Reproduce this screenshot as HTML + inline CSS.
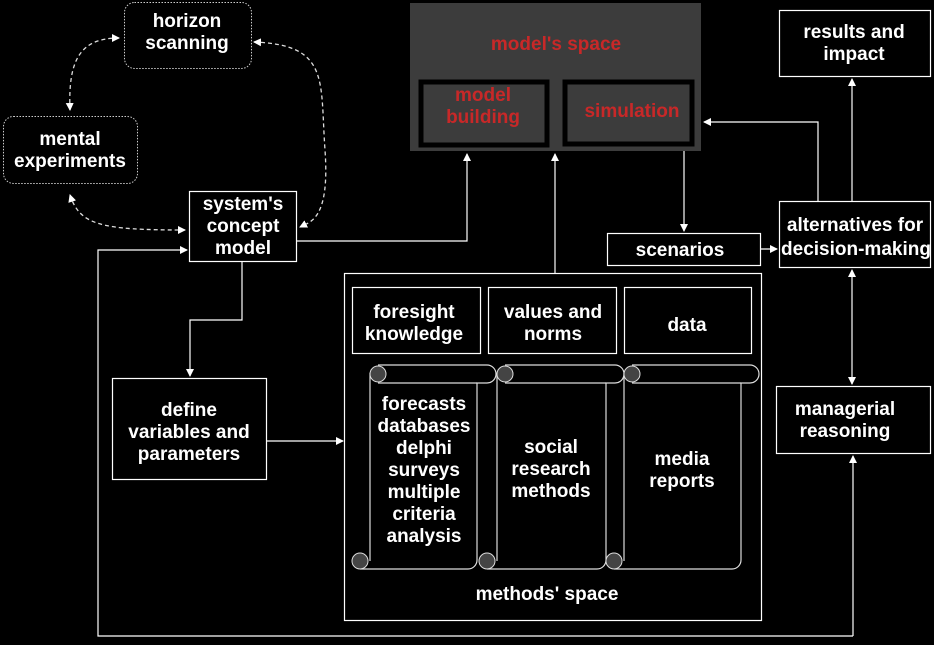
<!DOCTYPE html>
<html><head><meta charset="utf-8"><style>
html,body{margin:0;padding:0;background:#000;}
svg{display:block;}
text{font-family:"Liberation Sans",Arial,sans-serif;font-weight:bold;font-size:19px;fill:#fff;text-anchor:middle;}
.r{fill:#c82828;}
</style></head><body>
<svg width="934" height="645" viewBox="0 0 934 645" xmlns="http://www.w3.org/2000/svg">
<defs>
<marker id="a" markerWidth="8" markerHeight="8" refX="7" refY="4" orient="auto" markerUnits="userSpaceOnUse"><path d="M0,0 L8,4 L0,8 z" fill="#fff"/></marker>
<marker id="as" markerWidth="8" markerHeight="8" refX="1" refY="4" orient="auto" markerUnits="userSpaceOnUse"><path d="M8,0 L0,4 L8,8 z" fill="#fff"/></marker>
</defs>
<rect width="934" height="645" fill="#000"/>

<rect x="410" y="3" width="291" height="148" fill="#3c3c3c"/>
<rect x="421" y="82" width="126" height="63" fill="#3c3c3c" stroke="#000" stroke-width="5"/>
<rect x="565" y="82" width="127" height="62" fill="#3c3c3c" stroke="#000" stroke-width="5"/>
<text class="r" x="556" y="50">model's space</text>
<text class="r" x="483" y="101">model</text>
<text class="r" x="483" y="123">building</text>
<text class="r" x="632" y="117">simulation</text>

<rect x="124.5" y="2.5" width="127" height="66" rx="10" fill="none" stroke="#ccc" stroke-dasharray="1.5,1.5"/>
<text x="187" y="27">horizon</text><text x="187" y="49">scanning</text>
<rect x="3.5" y="116.5" width="134" height="67" rx="10" fill="none" stroke="#ccc" stroke-dasharray="1.5,1.5"/>
<text x="70" y="145">mental</text><text x="70" y="167">experiments</text>

<g fill="none" stroke="#ddd" stroke-width="1.3" stroke-dasharray="4,3">
<path d="M70,110 C68,60 80,38 119,38" marker-end="url(#a)" marker-start="url(#as)"/>
<path d="M254,42 C330,45 320,80 325,150 C330,220 310,222 300,227" marker-end="url(#a)" marker-start="url(#as)"/>
<path d="M70,195 C80,225 100,230 185,230" marker-end="url(#a)" marker-start="url(#as)"/>
</g>

<g fill="none" stroke="#fff" stroke-width="1.2">
<rect x="189.5" y="191.5" width="107" height="70"/>
<rect x="112.5" y="378.5" width="154" height="101"/>
<rect x="344.5" y="273.5" width="417" height="347"/>
<rect x="352.5" y="287.5" width="128" height="66"/>
<rect x="488.5" y="287.5" width="128" height="66"/>
<rect x="624.5" y="287.5" width="127" height="66"/>
<rect x="779.5" y="10.5" width="151" height="66"/>
<rect x="779.5" y="201.5" width="151" height="66"/>
<rect x="776.5" y="386.5" width="154" height="67"/>
<rect x="607.5" y="233.5" width="153" height="32"/>
</g>
<text x="243" y="210">system's</text><text x="243" y="232">concept</text><text x="243" y="254">model</text>
<text x="189" y="416">define</text><text x="189" y="438">variables and</text><text x="189" y="460">parameters</text>
<text x="414" y="318">foresight</text><text x="414" y="340">knowledge</text>
<text x="553" y="318">values and</text><text x="553" y="340">norms</text>
<text x="687" y="331">data</text>
<text x="854" y="38">results and</text><text x="854" y="60">impact</text>
<text x="855" y="231">alternatives for</text><text x="856" y="255">decision-making</text>
<text x="845" y="415">managerial</text><text x="845" y="437">reasoning</text>
<text x="680" y="256">scenarios</text>
<text x="547" y="600">methods' space</text>

<g stroke="#ddd" stroke-width="1.2" fill="none">
<path d="M378,365 H487 A9,9 0 0 1 487,383 H477 V560 A9,9 0 0 1 468,569 H360"/>
<path d="M370,373 V561"/>
<path d="M378,383 H477"/>
<path d="M505,365 H615 A9,9 0 0 1 615,383 H606 V560 A9,9 0 0 1 597,569 H487"/>
<path d="M497,373 V561"/>
<path d="M505,383 H606"/>
<path d="M632,365 H750 A9,9 0 0 1 750,383 H741 V560 A9,9 0 0 1 732,569 H614"/>
<path d="M624,373 V561"/>
<path d="M632,383 H741"/>
</g>
<g fill="#444" stroke="#ddd" stroke-width="1">
<circle cx="378" cy="374" r="8"/><circle cx="505" cy="374" r="8"/><circle cx="632" cy="374" r="8"/>
<circle cx="360" cy="561" r="8"/><circle cx="487" cy="561" r="8"/><circle cx="614" cy="561" r="8"/>
</g>
<text x="424" y="410">forecasts</text><text x="424" y="432">databases</text><text x="424" y="454">delphi</text>
<text x="424" y="476">surveys</text><text x="424" y="498">multiple</text><text x="424" y="520">criteria</text><text x="424" y="542">analysis</text>
<text x="551" y="453">social</text><text x="551" y="475">research</text><text x="551" y="497">methods</text>
<text x="682" y="465">media</text><text x="682" y="487">reports</text>

<g fill="none" stroke="#fff" stroke-width="1.2">
<path d="M296,241 H467 V154" marker-end="url(#a)"/>
<path d="M555,273 V154" marker-end="url(#a)"/>
<path d="M684,151 V231" marker-end="url(#a)"/>
<path d="M760,249 H777" marker-end="url(#a)"/>
<path d="M818,201 V122 H704" marker-end="url(#a)"/>
<path d="M852,201 V79" marker-end="url(#a)"/>
<path d="M852,270 V384" marker-end="url(#a)" marker-start="url(#as)"/>
<path d="M242,261 V320 H190 V376" marker-end="url(#a)"/>
<path d="M266,441 H343" marker-end="url(#a)"/>
<path d="M853,636 V456" marker-end="url(#a)"/>
<path d="M853,636 H98 V250 H187" marker-end="url(#a)"/>
</g>
</svg>
</body></html>
